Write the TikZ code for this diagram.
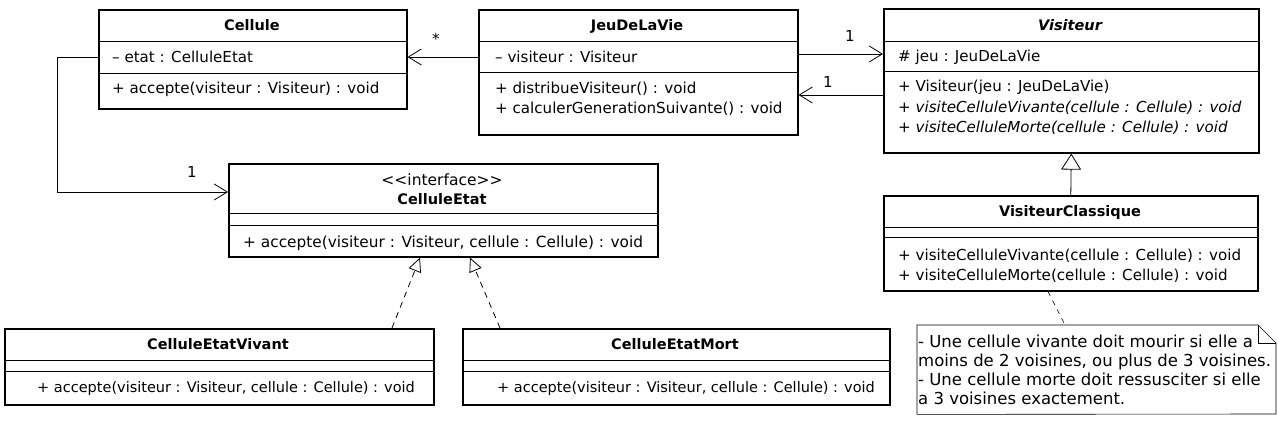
\documentclass[tikz,border=0pt]{standalone}
\usepackage{fontspec}
\setmainfont{DejaVu Sans}
\usetikzlibrary{arrows.meta}
\newcommand{\umlsize}{\fontsize{15.1}{20}\selectfont}
\newcommand{\titlesize}{\fontsize{14.5}{20}\selectfont}
\tikzstyle{Class}=[rectangle, draw=black, line width=1.6pt, anchor=north west, inner sep=0pt]
\tikzstyle{Member}=[anchor=west, inner sep=0pt, text height=11pt, text depth=3pt]
\tikzstyle{Title}=[inner sep=0pt, font=\titlesize\bfseries, text height=11pt, text depth=3pt]
\tikzstyle{Divider}=[line width=0.8pt]
\tikzstyle{Assoc}=[line width=0.8pt, -{Straight Barb[length=13pt, width=16pt]}]
\tikzstyle{Realize}=[line width=0.8pt, dash pattern=on 6pt off 5pt, -{Triangle[open, length=14pt, width=13pt]}]
\tikzstyle{Inherit}=[line width=0.8pt, -{Triangle[open, length=16pt, width=20pt]}]
\tikzstyle{NoteText}=[anchor=north west, align=left, inner xsep=1pt, inner ysep=0pt, minimum height=89pt, font=\fontsize{16.5}{19}\selectfont]

\begin{document}
\begin{tikzpicture}[x=1pt, y=-1pt, font=\umlsize]
    \useasboundingbox (0,0) rectangle (1278,427);

    % classes
    \path
    (98,9) node[Class, minimum width=308pt, minimum height=99pt] (cellule) {}
    (478,9) node[Class, minimum width=319pt, minimum height=125pt] (jeu) {}
    (883,8) node[Class, minimum width=375pt, minimum height=144pt] (visiteur) {}
    (883,195) node[Class, minimum width=374pt, minimum height=95pt] (classique) {}
    (228,163) node[Class, minimum width=429pt, minimum height=93pt] (etat) {}
    (4,328) node[Class, minimum width=429pt, minimum height=76pt] (vivant) {}
    (462,328) node[Class, minimum width=427pt, minimum height=76pt] (mort) {};

    \foreach \cls/\a/\b in {cellule/32/64, jeu/32/63, visiteur/33/63, classique/32/42, etat/50/62, vivant/32/43, mort/32/43}
      {
      \draw[Divider] ([yshift=-\a pt]\cls.north west) -- ([yshift=-\a pt]\cls.north east);
      \draw[Divider] ([yshift=-\b pt]\cls.north west) -- ([yshift=-\b pt]\cls.north east);
      }

    % texts
    \path
    (252,27) node[Title] (celluleName) {Cellule}
    (112,59) node[Member] (celluleEtat) {– etat : CelluleEtat}
    (112,90) node[Member] (celluleAccepte) {+ accepte(visiteur : Visiteur) : void};
    \path
    (637,27) node[Title] (jeuName) {JeuDeLaVie}
    (495,59) node[Member] (jeuVisiteur) {– visiteur : Visiteur}
    (495,90) node[Member] (jeuDistribue) {+ distribueVisiteur() : void}
    (495,110) node[Member] (jeuCalculer) {+ calculerGenerationSuivante() : void};
    \path
    (1070,27) node[Title, font=\titlesize\bfseries\itshape] (visiteurName) {Visiteur}
    (898,58) node[Member] (visiteurJeu) {\# jeu : JeuDeLaVie}
    (898,88) node[Member] (visiteurCtor) {+ Visiteur(jeu : JeuDeLaVie)}
    (898,109) node[Member, font=\umlsize\itshape] (visiteurVivante) {+ visiteCelluleVivante(cellule : Cellule) : void}
    (898,129) node[Member, font=\umlsize\itshape] (visiteurMorte) {+ visiteCelluleMorte(cellule : Cellule) : void};
    \path
    (1070,213) node[Title] (classiqueName) {VisiteurClassique}
    (898,257) node[Member] (classiqueVivante) {+ visiteCelluleVivante(cellule : Cellule) : void}
    (898,277) node[Member] (classiqueMorte) {+ visiteCelluleMorte(cellule : Cellule) : void};
    \path
    (442,182) node[Title, font=\fontsize{15.5}{20}\selectfont] (etatStereo) {{<}{<}interface{>}{>}}
    (442,201) node[Title] (etatName) {CelluleEtat}
    (243,244) node[Member, font=\fontsize{15.35}{20}\selectfont] (etatAccepte) {+ accepte(visiteur : Visiteur, cellule : Cellule) : void};
    \path
    (218,346) node[Title] (vivantName) {CelluleEtatVivant}
    (37,389) node[Member, font=\titlesize] (vivantAccepte) {+ accepte(visiteur : Visiteur, cellule : Cellule) : void}
    (675,346) node[Title] (mortName) {CelluleEtatMort}
    (497,389) node[Member, font=\titlesize] (mortAccepte) {+ accepte(visiteur : Visiteur, cellule : Cellule) : void};

    % note
    \node[NoteText] (note) at (917,325) {- Une cellule vivante doit mourir si elle a\\moins de 2 voisines, ou plus de 3 voisines.\\- Une cellule morte doit ressusciter si elle\\a 3 voisines exactement.};
    \coordinate (noteNE) at (1276,325);
    \coordinate (noteSE) at (1276,414);
    \draw[line width=0.6pt] (note.north west) -- ([xshift=-18pt]noteNE) -- ([yshift=-18pt]noteNE) -- (noteSE) -- (note.south west) -- cycle;
    \draw[line width=0.6pt] ([xshift=-18pt]noteNE) |- ([yshift=-18pt]noteNE);

    % connectors
    \draw[Assoc] (jeu.west |- 0,57) -- (cellule.east |- 0,57);
    \draw[Assoc] (jeu.east |- 0,54) -- (visiteur.west |- 0,54);
    \draw[Assoc] (visiteur.west |- 0,95) -- (jeu.east |- 0,95);
    \draw[Assoc] (cellule.west |- 0,57) -- ++(-41,0) |- (etat.west |- 0,192);
    \draw[Inherit] (classique.north) -- (visiteur.south);
    \draw[Realize] (vivant.north -| 392,0) -- (etat.south -| 420,0);
    \draw[Realize] (mort.north -| 500,0) -- (etat.south -| 470,0);
    \draw[line width=0.6pt, dash pattern=on 5pt off 5pt] (classique.south -| 1048,0) -- (note.north west -| 1065,0);

    \path
    (436,39) node (mulCellule) {*}
    (850,36) node (mulVisiteur) {1}
    (828,82) node (mulJeu) {1}
    (192,172) node (mulEtat) {1};
\end{tikzpicture}
\end{document}
